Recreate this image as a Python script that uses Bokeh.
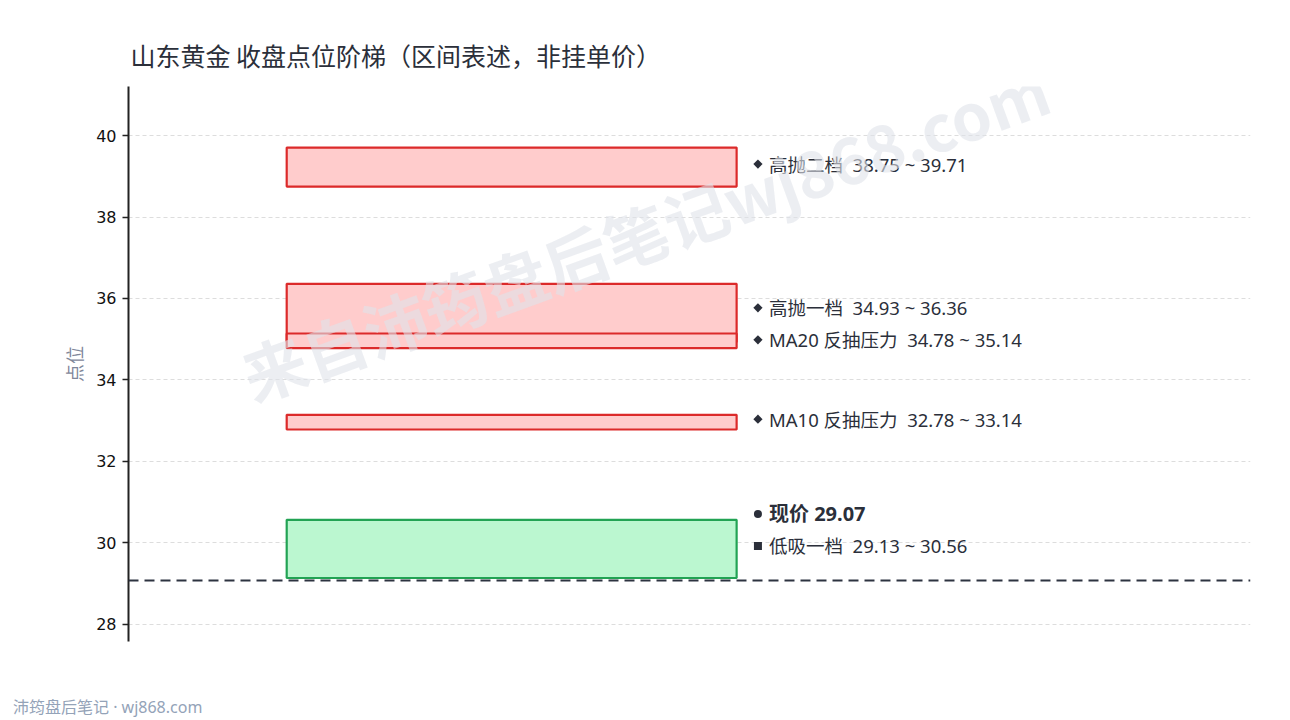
import math
from bokeh.plotting import figure
from bokeh.layouts import column
from bokeh.models import Range1d, Span, Label, FixedTicker, ColumnDataSource, Div
from bokeh.core.properties import value
from bokeh.embed import file_html
from bokeh.resources import INLINE

# ---------------- data ----------------
title_text = "山东黄金 收盘点位阶梯（区间表述，非挂单价）"
zone_names = ["高抛二档", "高抛一档", "MA20 反抽压力", "MA10 反抽压力", "低吸一档"]
zone_low = [38.75, 34.93, 34.78, 32.78, 29.13]
zone_high = [39.71, 36.36, 35.14, 33.14, 30.56]
zone_side = ["sell", "sell", "sell", "sell", "buy"]
current_name = "现价"
current_price = 29.07
y_ticks = [28, 30, 32, 34, 36, 38, 40]
y_axis_label = "点位"
watermark_text = "来自沛筠盘后笔记wj868.com"
footer_text = "沛筠盘后笔记 · wj868.com"

# ---------------- style ----------------
CJK = "Noto Sans CJK SC"
MIX = "Noto Sans, Noto Sans CJK SC"
TEXT_COLOR = "#2b2f3a"
SELL_FILL, SELL_LINE = "#ffcccc", "#dc2a2a"
BUY_FILL, BUY_LINE = "#bbf7d0", "#22a354"
BAR_LEFT, BAR_RIGHT = 0.141, 0.542
LABEL_X = 0.561
PAD = 1.5
NB = "\u00a0\u00a0"

y_lo = current_price - PAD
y_hi = max(zone_high) + PAD

W, H = 1280, 696
BL, BR, BT, BB = 128, W - 1250, 86, H - 641
p = figure(width=W, height=H, output_backend="svg", toolbar_location=None,
           x_range=Range1d(0, 1), y_range=Range1d(y_lo, y_hi),
           x_axis_location=None, min_border_left=BL, min_border_right=BR,
           min_border_top=BT, min_border_bottom=BB)
p.outline_line_color = None
p.background_fill_color = "white"
p.border_fill_color = "white"

# title
p.title.text = title_text
p.title.text_font = CJK
p.title.text_font_size = "25px"
p.title.text_font_style = "normal"
p.title.text_color = TEXT_COLOR
p.title.align = "left"
p.title.offset = 2
p.title.standoff = 27

# axis
ax = p.yaxis[0]
ax.ticker = FixedTicker(ticks=y_ticks)
ax.axis_label = y_axis_label
ax.axis_label_text_font = CJK
ax.axis_label_text_font_size = "18px"
ax.axis_label_text_font_style = "normal"
ax.axis_label_text_color = "#7f879a"
ax.axis_label_standoff = 6
ax.major_label_text_font = "DejaVu Sans"
ax.major_label_text_font_size = "16px"
ax.major_label_text_color = "#111111"
ax.axis_line_color = "#222222"
ax.axis_line_width = 2
ax.major_tick_line_color = "#222222"
ax.major_tick_line_width = 1.5
ax.major_tick_out = 6
ax.major_tick_in = 0
ax.minor_tick_line_color = None
ax.major_label_standoff = 6

p.xgrid.grid_line_color = None
p.ygrid.grid_line_color = "#dddddd"
p.ygrid.grid_line_dash = "4 3"
p.ygrid.grid_line_width = 1

# bars
fills = [SELL_FILL if s == "sell" else BUY_FILL for s in zone_side]
lines = [SELL_LINE if s == "sell" else BUY_LINE for s in zone_side]
bar_src = ColumnDataSource(dict(
    left=[BAR_LEFT] * len(zone_names), right=[BAR_RIGHT] * len(zone_names),
    bottom=zone_low, top=zone_high, fill=fills, line=lines))
p.quad(left="left", right="right", bottom="bottom", top="top", source=bar_src,
       fill_color="fill", line_color="line", line_width=2.2)

# current price line
p.add_layout(Span(location=current_price, dimension="width", line_color="#2d3340",
                  line_width=2, line_dash="10 6"))

# label positions (mid of each zone, spread to avoid overlap)
px_per_unit = (H - BT - BB) / (y_hi - y_lo)
gap = 32 / px_per_unit
nudge = 3 / px_per_unit
ys = [(lo + hi) / 2 for lo, hi in zip(zone_low, zone_high)]
order = sorted(range(len(ys)), key=lambda i: -ys[i])
for _ in range(60):
    for a, b in zip(order[:-1], order[1:]):
        d = ys[a] - ys[b]
        if d < gap:
            s = (gap - d) / 2
            ys[a] += s
            ys[b] -= s
ys = [v + nudge for v in ys]
buy_idx = zone_side.index("buy")
cur_label_y = ys[buy_idx] + gap

texts = [f"{n}{NB}{lo:.2f} ~ {hi:.2f}" for n, lo, hi in zip(zone_names, zone_low, zone_high)]
lab_src = ColumnDataSource(dict(x=[LABEL_X] * len(texts), y=ys, t=texts))
p.text(x="x", y="y", text="t", source=lab_src, x_offset=11,
       text_font=value(MIX), text_font_size="18.5px", text_color=TEXT_COLOR,
       text_align="left", text_baseline="middle")
sell_i = [i for i, s in enumerate(zone_side) if s == "sell"]
buy_i = [i for i, s in enumerate(zone_side) if s == "buy"]
p.scatter(x=[LABEL_X] * len(sell_i), y=[ys[i] for i in sell_i], marker="square",
          angle=math.pi / 4, size=6.5, fill_color=TEXT_COLOR, line_color=None)
p.scatter(x=[LABEL_X] * len(buy_i), y=[ys[i] for i in buy_i], marker="square",
          size=8, fill_color=TEXT_COLOR, line_color=None)
p.scatter(x=[LABEL_X], y=[cur_label_y], marker="circle", size=8,
          fill_color=TEXT_COLOR, line_color=None)
p.text(x=[LABEL_X], y=[cur_label_y], text=[f"{current_name} {current_price:.2f}"],
       x_offset=11, text_font=value(MIX), text_font_size="20px",
       text_font_style="bold", text_color=TEXT_COLOR,
       text_align="left", text_baseline="middle")

# watermark
p.add_layout(Label(x=0.46, y=37.66, text=watermark_text, angle=math.radians(20),
                   text_align="center", text_baseline="middle",
                   text_font=CJK, text_font_size="64px", text_font_style="bold",
                   text_color="#dfe2ea", text_alpha=0.6))

# footer
footer = Div(text=footer_text, width=400, height=22, margin=(0, 0, 0, 13),
             styles={"font-family": MIX, "font-size": "16px", "color": "#94a3b8",
                     "line-height": "22px", "white-space": "nowrap"})

layout = column(p, footer, spacing=0)
open("out.html", "w").write(file_html(layout, INLINE))
